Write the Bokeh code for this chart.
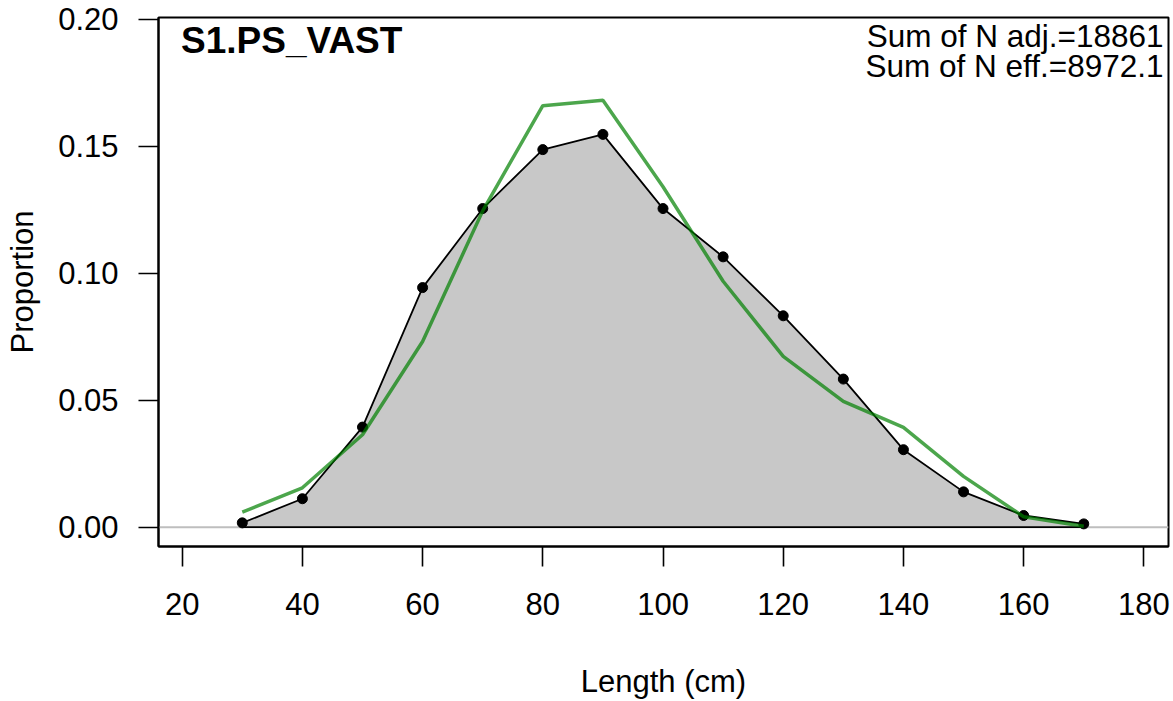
from bokeh.plotting import figure
from bokeh.models import Span, Label, FixedTicker, Range1d, PrintfTickFormatter
from bokeh.embed import file_html
from bokeh.resources import INLINE

# ---- data ----
lengths = [30, 40, 50, 60, 70, 80, 90, 100, 110, 120, 130, 140, 150, 160, 170]
observed = [0.0017, 0.0112, 0.0394, 0.0943, 0.1254, 0.1486, 0.1546, 0.1254,
            0.1064, 0.0832, 0.0583, 0.0305, 0.0139, 0.0046, 0.0013]
expected = [0.0059, 0.0155, 0.0364, 0.0731, 0.1245, 0.1659, 0.1680, 0.1340,
            0.0968, 0.0672, 0.0495, 0.0393, 0.0200, 0.0041, 0.0004]
x_ticks = [20, 40, 60, 80, 100, 120, 140, 160, 180]
y_ticks = [0.00, 0.05, 0.10, 0.15, 0.20]
panel_title = "S1.PS_VAST"
n_adj_text = "Sum of N adj.=18861"
n_eff_text = "Sum of N eff.=8972.1"
x_label = "Length (cm)"
y_label = "Proportion"

FONT = "Liberation Sans"

p = figure(width=1173, height=701, output_backend="svg", toolbar_location=None,
           x_range=Range1d(16.06, 184.1), y_range=Range1d(-0.0076, 0.2006),
           min_border_left=158, min_border_right=5, min_border_top=17,
           min_border_bottom=154, background_fill_color="white",
           border_fill_color="white")

p.xgrid.visible = False
p.ygrid.visible = False
p.outline_line_color = "black"
p.outline_line_width = 2
p.outline_line_alpha = 1

# zero line
p.add_layout(Span(location=0, dimension="width", line_color="#BEBEBE",
                  line_width=2, level="underlay"))

# observed polygon
poly_x = lengths + [lengths[-1], lengths[0]]
poly_y = observed + [0, 0]
p.patch(poly_x, poly_y, fill_color="#C8C8C8", line_color="black", line_width=1.8)
p.scatter(lengths, observed, size=10, color="black")

# expected line
p.line(lengths, expected, line_color="#008000", line_alpha=0.7, line_width=3.5)

# axes
for ax in (p.xaxis[0], p.yaxis[0]):
    ax.major_tick_out = 20
    ax.major_tick_in = 0
    ax.minor_tick_out = 0
    ax.minor_tick_in = 0
    ax.major_tick_line_width = 1.6
    ax.major_tick_line_color = "black"
    ax.axis_line_color = "black"
    ax.axis_line_width = 2
    ax.major_label_text_font = FONT
    ax.major_label_text_font_size = "31px"
    ax.major_label_text_color = "black"
    ax.axis_label_text_font = FONT
    ax.axis_label_text_font_size = "31px"
    ax.axis_label_text_font_style = "normal"
    ax.axis_label_text_color = "black"

p.xaxis.ticker = FixedTicker(ticks=x_ticks)
p.yaxis.ticker = FixedTicker(ticks=y_ticks)
p.yaxis.formatter = PrintfTickFormatter(format="%.2f")
p.xaxis.axis_label = x_label
p.yaxis.axis_label = y_label
p.xaxis.major_label_standoff = 26
p.yaxis.major_label_standoff = 20
p.xaxis.axis_label_standoff = 46
p.yaxis.axis_label_standoff = 15

# panel texts
p.add_layout(Label(x=22.5, y=506.5, x_units="screen", y_units="screen",
                   text=panel_title, text_font=FONT, text_font_size="37px",
                   text_font_style="bold", text_color="black",
                   text_baseline="alphabetic", text_align="left"))
p.add_layout(Label(x=1005, y=511, x_units="screen", y_units="screen",
                   text=n_adj_text, text_font=FONT, text_font_size="31.5px",
                   text_color="black", text_baseline="alphabetic", text_align="right"))
p.add_layout(Label(x=1005, y=481, x_units="screen", y_units="screen",
                   text=n_eff_text, text_font=FONT, text_font_size="31.5px",
                   text_color="black", text_baseline="alphabetic", text_align="right"))

open("out.html", "w").write(file_html(p, INLINE))
